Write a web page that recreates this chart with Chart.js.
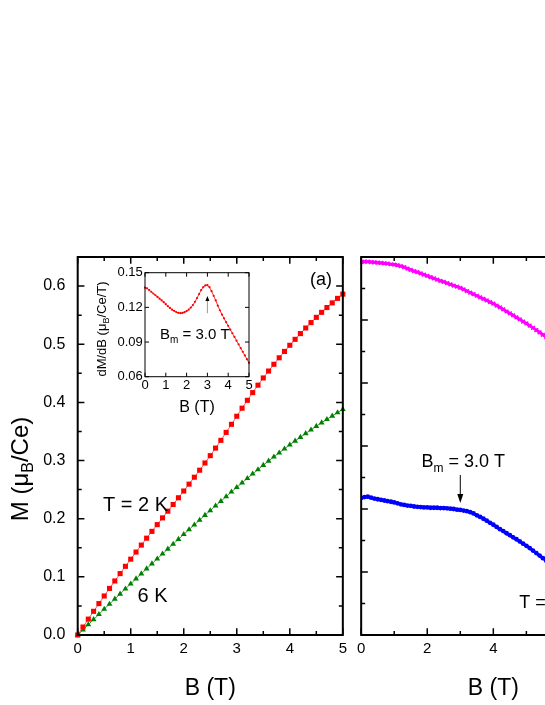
<!DOCTYPE html>
<html><head><meta charset="utf-8">
<script src="https://cdn.jsdelivr.net/npm/chart.js@4.4.0/dist/chart.umd.min.js"></script>
<style>
html,body{margin:0;padding:0;background:#fff;overflow:hidden}
#wrap{position:relative;width:545px;height:705px;overflow:hidden;background:#fff}
canvas{position:absolute;top:0}
</style></head><body>
<div id="wrap">
<canvas id="cL" width="352" height="705" style="left:0"></canvas>
<canvas id="cR" width="300" height="705" style="left:352px"></canvas>
<canvas id="cI" width="170" height="160" style="left:85px;top:262px"></canvas>
</div>
<script>
// ---------- DATA ----------
const bLeft = [0,0.1,0.2,0.3,0.4,0.5,0.6,0.7,0.8,0.9,1.0,1.1,1.2,1.3,1.4,1.5,1.6,1.7,1.8,1.9,2.0,2.1,2.2,2.3,2.4,2.5,2.6,2.7,2.8,2.9,3.0,3.1,3.2,3.3,3.4,3.5,3.6,3.7,3.8,3.9,4.0,4.1,4.2,4.3,4.4,4.5,4.6,4.7,4.8,4.9,5.0];
const m2K = [0,0.0137,0.0273,0.0407,0.0540,0.0671,0.0801,0.0929,0.1056,0.1181,
 0.1304,0.1426,0.1546,0.1665,0.1782,0.1898,0.2014,0.2129,0.2244,0.2360,
 0.2476,0.2594,0.2713,0.2834,0.2958,0.3084,0.3214,0.3347,0.3484,0.3623,
 0.3762,0.3900,0.4036,0.4168,0.4296,0.4420,0.4539,0.4655,0.4767,0.4876,
 0.4982,0.5084,0.5183,0.5279,0.5372,0.5462,0.5548,0.5631,0.5711,0.5788,0.5862];
const m6K = [0,0.0089,0.0178,0.0267,0.0356,0.0445,0.0532,0.0619,0.0706,0.0793,
 0.0880,0.0967,0.1053,0.1139,0.1225,0.1310,0.1395,0.1479,0.1563,0.1647,
 0.1730,0.1813,0.1895,0.1977,0.2059,0.2140,0.2221,0.2301,0.2381,0.2461,
 0.2540,0.2617,0.2694,0.2770,0.2845,0.2920,0.2992,0.3063,0.3133,0.3202,
 0.3270,0.3336,0.3401,0.3465,0.3528,0.3590,0.3650,0.3709,0.3767,0.3824,0.3880];
const dMdB2K = [0.137,0.1365,0.135,0.1335,0.132,0.1305,0.129,0.1275,0.126,0.1245,
 0.1228,0.121,0.1195,0.118,0.117,0.116,0.1153,0.115,0.1152,0.1158,
 0.1168,0.118,0.1198,0.122,0.1248,0.128,0.1315,0.135,0.1375,0.139,
 0.1392,0.1375,0.134,0.130,0.126,0.1215,0.1175,0.1138,0.1105,0.1072,
 0.104,0.1008,0.0976,0.0944,0.0912,0.088,0.0848,0.0816,0.0784,0.0752,0.072];
const bRight = [0,0.1,0.2,0.3,0.4,0.5,0.6,0.7,0.8,0.9,1.0,1.1,1.2,1.3,1.4,1.5,1.6,1.7,1.8,1.9,2.0,2.1,2.2,2.3,2.4,2.5,2.6,2.7,2.8,2.9,3.0,3.1,3.2,3.3,3.4,3.5,3.6,3.7,3.8,3.9,4.0,4.1,4.2,4.3,4.4,4.5,4.6,4.7,4.8,4.9,5.0,5.1,5.2,5.3,5.4,5.5,5.6,5.7,5.8,5.9,6.0];
const rightUpper = [11.84,11.85,11.85,11.84,11.83,11.82,11.81,11.80,11.79,11.77,
 11.76,11.74,11.71,11.68,11.63,11.59,11.55,11.52,11.48,11.44,
 11.40,11.36,11.32,11.28,11.24,11.21,11.17,11.13,11.09,11.06,
 11.02,10.97,10.92,10.87,10.82,10.77,10.72,10.67,10.62,10.57,
 10.52,10.46,10.40,10.34,10.27,10.21,10.15,10.08,10.02,9.95,
 9.89,9.82,9.75,9.68,9.61,9.53,9.46,9.38,9.31,9.23,9.15];
const rightLower = [4.35,4.38,4.39,4.36,4.33,4.31,4.29,4.27,4.25,4.23,
 4.21,4.18,4.15,4.13,4.11,4.10,4.08,4.07,4.06,4.05,
 4.05,4.04,4.04,4.04,4.03,4.03,4.02,4.01,4.00,3.98,
 3.97,3.95,3.93,3.90,3.86,3.80,3.75,3.69,3.63,3.56,
 3.50,3.43,3.36,3.30,3.23,3.17,3.10,3.04,2.97,2.90,
 2.83,2.76,2.68,2.60,2.52,2.44,2.36,2.28,2.19,2.11,2.02];

const leftXTicks = [0,1,2,3,4,5];
const leftXLabels = ['0','1','2','3','4','5'];
const leftXMinor = [0.5,1.5,2.5,3.5,4.5];
const leftYTicks = [0,0.1,0.2,0.3,0.4,0.5,0.6];
const leftYLabels = ['0.0','0.1','0.2','0.3','0.4','0.5','0.6'];
const leftYMinor = [0.05,0.15,0.25,0.35,0.45,0.55];
const insetXTicks = [0,1,2,3,4,5];
const insetXLabels = ['0','1','2','3','4','5'];
const insetYTicks = [0.06,0.09,0.12,0.15];
const insetYLabels = ['0.06','0.09','0.12','0.15'];
const rightXTicks = [0,2,4,6,8];
const rightXLabels = ['0','2','4','6','8'];
const rightXMinor = [1,3,5,7];
const rightYTicks = [0,2,4,6,8,10,12];
const rightYMinor = [1,3,5,7,9,11];

// ---------- HELPERS ----------
const FONT = "'Liberation Sans', Arial, Helvetica, sans-serif";
Chart.defaults.font.family = FONT;
Chart.defaults.color = '#000';

function pts(xs, ys){ return xs.map((x,i)=>({x:x,y:ys[i]})); }

function drawParts(ctx, parts, x, y, rot, align){
  ctx.save(); ctx.translate(x,y); if(rot) ctx.rotate(rot);
  ctx.textBaseline='alphabetic'; ctx.textAlign='left'; ctx.fillStyle='#000';
  let w=0;
  parts.forEach(p=>{ctx.font=p.size+'px '+FONT; w+=ctx.measureText(p.t).width;});
  let cx = align==='center' ? -w/2 : 0;
  parts.forEach(p=>{ctx.font=p.size+'px '+FONT; ctx.fillText(p.t,cx,p.dy||0); cx+=ctx.measureText(p.t).width;});
  ctx.restore();
}

const framePlugin = {
  id:'frame',
  afterDraw(chart, args, o){
    const ctx=chart.ctx, a=chart.chartArea, xs=chart.scales.x, ys=chart.scales.y;
    ctx.save();
    ctx.strokeStyle='#000';
    ctx.lineWidth=o.lw;
    ctx.strokeRect(a.left, a.top, a.right-a.left, a.bottom-a.top);
    ctx.lineWidth=o.tw;
    ctx.beginPath();
    const xt=(vals,len)=>vals.forEach(v=>{const p=xs.getPixelForValue(v);
      ctx.moveTo(p,a.bottom); ctx.lineTo(p,a.bottom-len);
      ctx.moveTo(p,a.top); ctx.lineTo(p,a.top+len);});
    const yt=(vals,len)=>vals.forEach(v=>{const p=ys.getPixelForValue(v);
      ctx.moveTo(a.left,p); ctx.lineTo(a.left+len,p);
      ctx.moveTo(a.right,p); ctx.lineTo(a.right-len,p);});
    xt(o.xMajor||[],o.majLen); xt(o.xMinor||[],o.minLen);
    yt(o.yMajor||[],o.majLen); yt(o.yMinor||[],o.minLen);
    ctx.stroke();
    (o.arrows||[]).forEach(ar=>{
      const px=xs.getPixelForValue(ar.x), p1=ys.getPixelForValue(ar.from), p2=ys.getPixelForValue(ar.to);
      const dir = p2>p1 ? 1 : -1;
      ctx.strokeStyle=ar.color; ctx.lineWidth=1;
      ctx.beginPath(); ctx.moveTo(px,p1); ctx.lineTo(px,p2-dir*ar.h*0.6); ctx.stroke();
      ctx.fillStyle='#000';
      ctx.beginPath(); ctx.moveTo(px,p2); ctx.lineTo(px-ar.w/2,p2-dir*ar.h); ctx.lineTo(px+ar.w/2,p2-dir*ar.h); ctx.closePath(); ctx.fill();
    });
    ctx.restore();
    (o.texts||[]).forEach(t=>{
      const x = t.cx==='plot' ? (a.left+a.right)/2 : t.x;
      drawParts(ctx, t.parts, x, t.y, t.rot||0, t.align||'left');
    });
  }
};

function axis(min,max,ticks,labels,size,pad,fitKey,fitVal,show){
  return {type:'linear',min:min,max:max,
    afterBuildTicks:s=>{s.ticks=ticks.map(v=>({value:v}));},
    afterFit:s=>{s[fitKey]=fitVal;},
    grid:{display:false,drawTicks:false}, border:{display:false},
    ticks:{display:show,padding:pad,font:{size:size,family:FONT},color:'#000',autoSkip:false,maxRotation:0,
      callback:(v,i)=>labels[i]}
  };
}

// ---------- LEFT PANEL ----------
new Chart(document.getElementById('cL'),{
  type:'line',
  data:{datasets:[
    {data:pts(bLeft,m2K),borderColor:'#ff5a5a',borderWidth:1,pointStyle:'rect',pointRadius:3.6,
     pointBackgroundColor:'#ff0000',pointBorderColor:'#ff0000',pointBorderWidth:0,clip:false},
    {data:pts(bLeft,m6K),borderColor:'#3fa03f',borderWidth:1,pointStyle:'triangle',pointRadius:3.4,
     pointBackgroundColor:'#008000',pointBorderColor:'#008000',pointBorderWidth:0,clip:false}
  ]},
  options:{responsive:false,animation:false,devicePixelRatio:1,
    layout:{padding:{top:257,right:4.3,left:0,bottom:0}},
    plugins:{legend:{display:false},tooltip:{enabled:false},
      frame:{lw:2,tw:1.5,majLen:6.7,minLen:4,xMajor:leftXTicks,xMinor:leftXMinor,yMajor:leftYTicks,yMinor:leftYMinor,
        texts:[
          {parts:[{t:'M (\u03bc',size:24},{t:'B',size:16,dy:5},{t:'/Ce)',size:24}],x:28,y:469,rot:-Math.PI/2,align:'center'},
          {parts:[{t:'B (T)',size:23}],cx:'plot',y:695,align:'center'},
          {parts:[{t:'(a)',size:18}],x:310,y:285},
          {parts:[{t:'T = 2 K',size:20}],x:103,y:511},
          {parts:[{t:'6 K',size:20}],x:137.5,y:602}
        ]}},
    scales:{
      x:axis(0,5,leftXTicks,leftXLabels,15,5,'height',70,true),
      y:axis(0,0.65,leftYTicks,leftYLabels,16,12.3,'width',77.7,true)
    }},
  plugins:[framePlugin]
});

// ---------- RIGHT PANEL ----------
new Chart(document.getElementById('cR'),{
  type:'line',
  data:{datasets:[
    {data:pts(bRight,rightUpper),borderColor:'#ff00ff',borderWidth:3,pointStyle:'crossRot',pointRadius:2.6,
     pointBorderColor:'#ff00ff',pointBackgroundColor:'#ff00ff',pointBorderWidth:1.5},
    {data:pts(bRight,rightLower),borderColor:'#0000ff',borderWidth:3,pointStyle:'circle',pointRadius:2.4,
     pointBorderColor:'#0000ff',pointBackgroundColor:'#0000ff',pointBorderWidth:0}
  ]},
  options:{responsive:false,animation:false,devicePixelRatio:1,
    layout:{padding:{top:257,right:26.5,left:0,bottom:0}},
    plugins:{legend:{display:false},tooltip:{enabled:false},
      frame:{lw:2,tw:1.5,majLen:6.7,minLen:4,xMajor:rightXTicks,xMinor:rightXMinor,yMajor:rightYTicks,yMinor:rightYMinor,
        arrows:[{x:3.0,from:5.08,to:4.19,color:'#000',w:6,h:9}],
        texts:[
          {parts:[{t:'B (T)',size:23}],cx:'plot',y:695,align:'center'},
          {parts:[{t:'B',size:18},{t:'m',size:12,dy:5},{t:' = 3.0 T',size:18}],x:69.5,y:466.7},
          {parts:[{t:'T = 6 K',size:18}],x:167.3,y:608.3}
        ]}},
    scales:{
      x:axis(0,8,rightXTicks,rightXLabels,15,5,'height',70,true),
      y:axis(0,12,rightYTicks,rightYTicks.map(String),16,5,'width',5.5,false)
    }},
  plugins:[framePlugin]
});

// ---------- INSET ----------
new Chart(document.getElementById('cI'),{
  type:'line',
  data:{datasets:[
    {data:pts(bLeft,dMdB2K),borderColor:'#ff3030',borderWidth:1,pointStyle:'circle',pointRadius:1.1,
     pointBackgroundColor:'#ff0000',pointBorderColor:'#ff0000',pointBorderWidth:0,clip:false}
  ]},
  options:{responsive:false,animation:false,devicePixelRatio:1,
    layout:{padding:{top:10.7,right:6,left:0,bottom:0}},
    plugins:{legend:{display:false},tooltip:{enabled:false},
      frame:{lw:1,tw:1,majLen:4,minLen:2,xMajor:insetXTicks,yMajor:insetYTicks,
        arrows:[{x:3.0,from:0.1149,to:0.1298,color:'#9a9a9a',w:4,h:5}],
        texts:[
          {parts:[{t:'dM/dB (\u03bc',size:13},{t:'B',size:9,dy:3},{t:'/Ce/T)',size:13}],x:21,y:67,rot:-Math.PI/2,align:'center'},
          {parts:[{t:'B (T)',size:16}],cx:'plot',y:150,align:'center'},
          {parts:[{t:'B',size:15},{t:'m',size:10,dy:4},{t:' = 3.0 T',size:15}],x:75,y:77.3}
        ]}},
    scales:{
      x:axis(0,5,insetXTicks,insetXLabels,13,1,'height',45.3,true),
      y:axis(0.06,0.15,insetYTicks,insetYLabels,13,2.3,'width',60,true)
    }},
  plugins:[framePlugin]
});
</script>
</body></html>
